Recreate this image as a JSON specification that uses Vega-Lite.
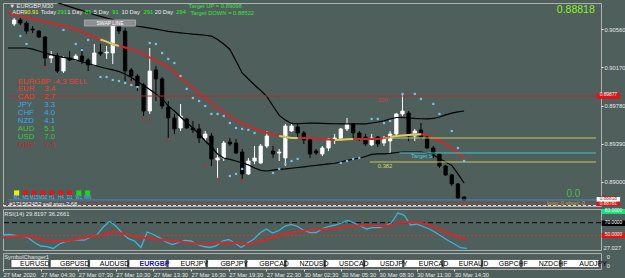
{
"$schema": "https://vega.github.io/schema/vega-lite/v6.json",
"background": "#4f5f5c",
"padding": {"left": 2, "top": 2, "right": 0, "bottom": 0},
"bounds": "flush",
"spacing": 3,
"config": {"view": {"stroke": "#b0b0b0", "strokeWidth": 1}, "font": "Liberation Sans", "text": {"font": "Liberation Sans"}},
"resolve": {"scale": {"x": "independent", "y": "independent", "color": "independent", "strokeDash": "independent"}},
"datasets": {
"candles": [
{"j":1,"o":0.90612,"h":0.90673,"l":0.90591,"c":0.90653},
{"j":2,"o":0.90653,"h":0.90673,"l":0.90602,"c":0.90622},
{"j":3,"o":0.90622,"h":0.90642,"l":0.90510,"c":0.90540},
{"j":4,"o":0.90561,"h":0.90591,"l":0.90520,"c":0.90551},
{"j":5,"o":0.90540,"h":0.90551,"l":0.90469,"c":0.90479},
{"j":6,"o":0.90479,"h":0.90489,"l":0.90183,"c":0.90265},
{"j":7,"o":0.90265,"h":0.90336,"l":0.90214,"c":0.90285},
{"j":8,"o":0.90285,"h":0.90316,"l":0.90112,"c":0.90132},
{"j":9,"o":0.90132,"h":0.90285,"l":0.90112,"c":0.90265},
{"j":10,"o":0.90265,"h":0.90336,"l":0.90234,"c":0.90245},
{"j":11,"o":0.90245,"h":0.90306,"l":0.90234,"c":0.90285},
{"j":12,"o":0.90285,"h":0.90367,"l":0.90204,"c":0.90234},
{"j":13,"o":0.90245,"h":0.90265,"l":0.90132,"c":0.90194},
{"j":14,"o":0.90194,"h":0.90408,"l":0.90183,"c":0.90316},
{"j":15,"o":0.90326,"h":0.90408,"l":0.90285,"c":0.90306},
{"j":16,"o":0.90316,"h":0.90387,"l":0.90255,"c":0.90326},
{"j":17,"o":0.90316,"h":0.90612,"l":0.90204,"c":0.90591},
{"j":18,"o":0.90591,"h":0.90622,"l":0.90510,"c":0.90540},
{"j":19,"o":0.90540,"h":0.90571,"l":0.90030,"c":0.90132},
{"j":20,"o":0.90143,"h":0.90163,"l":0.90030,"c":0.90081},
{"j":21,"o":0.90081,"h":0.90102,"l":0.89928,"c":0.89979},
{"j":22,"o":0.89990,"h":0.90010,"l":0.89673,"c":0.89724},
{"j":23,"o":0.89724,"h":0.90367,"l":0.89694,"c":0.90132},
{"j":24,"o":0.90143,"h":0.90183,"l":0.89826,"c":0.90051},
{"j":25,"o":0.90051,"h":0.90071,"l":0.89745,"c":0.89775},
{"j":26,"o":0.89765,"h":0.89826,"l":0.89449,"c":0.89653},
{"j":27,"o":0.89653,"h":0.89694,"l":0.89490,"c":0.89541},
{"j":28,"o":0.89551,"h":0.89796,"l":0.89520,"c":0.89673},
{"j":29,"o":0.89643,"h":0.89653,"l":0.89541,"c":0.89551},
{"j":30,"o":0.89551,"h":0.89622,"l":0.89500,"c":0.89531},
{"j":31,"o":0.89541,"h":0.89592,"l":0.89398,"c":0.89449},
{"j":32,"o":0.89449,"h":0.89520,"l":0.89418,"c":0.89490},
{"j":33,"o":0.89469,"h":0.89500,"l":0.89163,"c":0.89235},
{"j":34,"o":0.89225,"h":0.89347,"l":0.89041,"c":0.89245},
{"j":35,"o":0.89245,"h":0.89418,"l":0.89214,"c":0.89398},
{"j":36,"o":0.89408,"h":0.89449,"l":0.89367,"c":0.89388},
{"j":37,"o":0.89398,"h":0.89439,"l":0.89286,"c":0.89296},
{"j":38,"o":0.89306,"h":0.89337,"l":0.89031,"c":0.89082},
{"j":39,"o":0.89082,"h":0.89245,"l":0.89072,"c":0.89214},
{"j":40,"o":0.89214,"h":0.89367,"l":0.89184,"c":0.89245},
{"j":41,"o":0.89194,"h":0.89388,"l":0.89184,"c":0.89367},
{"j":42,"o":0.89367,"h":0.89520,"l":0.89347,"c":0.89469},
{"j":43,"o":0.89316,"h":0.89367,"l":0.89245,"c":0.89286},
{"j":44,"o":0.89296,"h":0.89337,"l":0.89214,"c":0.89306},
{"j":45,"o":0.89245,"h":0.89592,"l":0.89163,"c":0.89571},
{"j":46,"o":0.89520,"h":0.89602,"l":0.89510,"c":0.89571},
{"j":47,"o":0.89561,"h":0.89602,"l":0.89449,"c":0.89500},
{"j":48,"o":0.89500,"h":0.89520,"l":0.89388,"c":0.89429},
{"j":49,"o":0.89429,"h":0.89449,"l":0.89245,"c":0.89286},
{"j":50,"o":0.89316,"h":0.89337,"l":0.89276,"c":0.89296},
{"j":51,"o":0.89286,"h":0.89367,"l":0.89265,"c":0.89347},
{"j":52,"o":0.89347,"h":0.89449,"l":0.89316,"c":0.89439},
{"j":53,"o":0.89429,"h":0.89490,"l":0.89388,"c":0.89449},
{"j":54,"o":0.89429,"h":0.89551,"l":0.89418,"c":0.89541},
{"j":55,"o":0.89541,"h":0.89653,"l":0.89520,"c":0.89592},
{"j":56,"o":0.89592,"h":0.89602,"l":0.89449,"c":0.89500},
{"j":57,"o":0.89500,"h":0.89520,"l":0.89418,"c":0.89449},
{"j":58,"o":0.89459,"h":0.89490,"l":0.89367,"c":0.89388},
{"j":59,"o":0.89378,"h":0.89490,"l":0.89367,"c":0.89449},
{"j":60,"o":0.89459,"h":0.89469,"l":0.89357,"c":0.89388},
{"j":61,"o":0.89398,"h":0.89469,"l":0.89367,"c":0.89439},
{"j":62,"o":0.89418,"h":0.89520,"l":0.89286,"c":0.89490},
{"j":63,"o":0.89490,"h":0.89704,"l":0.89469,"c":0.89694},
{"j":64,"o":0.89694,"h":0.89898,"l":0.89673,"c":0.89724},
{"j":65,"o":0.89704,"h":0.89724,"l":0.89418,"c":0.89469},
{"j":66,"o":0.89469,"h":0.89541,"l":0.89418,"c":0.89520},
{"j":67,"o":0.89531,"h":0.89602,"l":0.89439,"c":0.89459},
{"j":68,"o":0.89459,"h":0.89490,"l":0.89337,"c":0.89347},
{"j":69,"o":0.89347,"h":0.89367,"l":0.89245,"c":0.89286},
{"j":70,"o":0.89286,"h":0.89296,"l":0.89143,"c":0.89163},
{"j":71,"o":0.89163,"h":0.89174,"l":0.89061,"c":0.89072},
{"j":72,"o":0.89072,"h":0.89082,"l":0.88960,"c":0.88980},
{"j":73,"o":0.88980,"h":0.88990,"l":0.88827,"c":0.88837},
{"j":74,"o":0.88847,"h":0.88857,"l":0.88806,"c":0.88818}
],
"series": [
{"j":0,"up":0.90989,"lo":0.90367,"ma":0.90724,"rsi":50.61,"rma":46.68},
{"j":1,"up":0.90969,"lo":0.90367,"ma":0.90709,"rsi":51.39,"rma":47.46},
{"j":2,"up":0.90948,"lo":0.90367,"ma":0.90693,"rsi":49.82,"rma":48.56},
{"j":3,"up":0.90928,"lo":0.90367,"ma":0.90680,"rsi":49.04,"rma":49.04},
{"j":4,"up":0.90908,"lo":0.90355,"ma":0.90666,"rsi":46.36,"rma":47.78},
{"j":5,"up":0.90887,"lo":0.90336,"ma":0.90653,"rsi":38.82,"rma":46.36},
{"j":6,"up":0.90867,"lo":0.90316,"ma":0.90635,"rsi":33.32,"rma":43.53},
{"j":7,"up":0.90846,"lo":0.90299,"ma":0.90622,"rsi":32.22,"rma":41.96},
{"j":8,"up":0.90829,"lo":0.90285,"ma":0.90607,"rsi":29.39,"rma":41.18},
{"j":9,"up":0.90810,"lo":0.90272,"ma":0.90591,"rsi":36.46,"rma":41.18},
{"j":10,"up":0.90789,"lo":0.90258,"ma":0.90576,"rsi":40.39,"rma":41.18},
{"j":11,"up":0.90768,"lo":0.90245,"ma":0.90556,"rsi":42.75,"rma":42.75},
{"j":12,"up":0.90749,"lo":0.90227,"ma":0.90530,"rsi":42.75,"rma":44.32},
{"j":13,"up":0.90726,"lo":0.90209,"ma":0.90505,"rsi":42.43,"rma":46.52},
{"j":14,"up":0.90706,"lo":0.90191,"ma":0.90479,"rsi":47.46,"rma":47.93},
{"j":15,"up":0.90689,"lo":0.90173,"ma":0.90454,"rsi":50.92,"rma":49.35},
{"j":16,"up":0.90673,"lo":0.90158,"ma":0.90432,"rsi":63.18,"rma":50.61},
{"j":17,"up":0.90655,"lo":0.90143,"ma":0.90405,"rsi":71.83,"rma":53.75},
{"j":18,"up":0.90638,"lo":0.90127,"ma":0.90387,"rsi":64.76,"rma":56.89},
{"j":19,"up":0.90622,"lo":0.90102,"ma":0.90372,"rsi":53.75,"rma":52.96},
{"j":20,"up":0.90607,"lo":0.90066,"ma":0.90355,"rsi":44.79,"rma":50.61},
{"j":21,"up":0.90589,"lo":0.90025,"ma":0.90334,"rsi":41.18,"rma":48.72},
{"j":22,"up":0.90579,"lo":0.89985,"ma":0.90301,"rsi":30.96,"rma":46.36},
{"j":23,"up":0.90569,"lo":0.89944,"ma":0.90269,"rsi":55.32,"rma":45.42},
{"j":24,"up":0.90559,"lo":0.89898,"ma":0.90240,"rsi":51.39,"rma":44.47},
{"j":25,"up":0.90548,"lo":0.89852,"ma":0.90204,"rsi":46.21,"rma":43.53},
{"j":26,"up":0.90537,"lo":0.89775,"ma":0.90173,"rsi":39.60,"rma":42.43},
{"j":27,"up":0.90528,"lo":0.89724,"ma":0.90122,"rsi":35.67,"rma":41.49},
{"j":28,"up":0.90522,"lo":0.89663,"ma":0.90061,"rsi":38.82,"rma":40.39},
{"j":29,"up":0.90515,"lo":0.89607,"ma":0.90010,"rsi":41.96,"rma":39.13},
{"j":30,"up":0.90508,"lo":0.89551,"ma":0.89959,"rsi":41.18,"rma":38.03},
{"j":31,"up":0.90503,"lo":0.89490,"ma":0.89903,"rsi":35.67,"rma":36.77},
{"j":32,"up":0.90497,"lo":0.89418,"ma":0.89852,"rsi":32.53,"rma":36.46},
{"j":33,"up":0.90489,"lo":0.89357,"ma":0.89806,"rsi":30.96,"rma":37.25},
{"j":34,"up":0.90454,"lo":0.89286,"ma":0.89760,"rsi":33.32,"rma":38.35},
{"j":35,"up":0.90408,"lo":0.89245,"ma":0.89714,"rsi":41.18,"rma":38.50},
{"j":36,"up":0.90352,"lo":0.89230,"ma":0.89668,"rsi":43.53,"rma":38.50},
{"j":37,"up":0.90234,"lo":0.89214,"ma":0.89628,"rsi":38.03,"rma":38.35},
{"j":38,"up":0.90112,"lo":0.89194,"ma":0.89592,"rsi":30.96,"rma":37.25},
{"j":39,"up":0.90051,"lo":0.89174,"ma":0.89571,"rsi":38.03,"rma":36.14},
{"j":40,"up":0.89990,"lo":0.89143,"ma":0.89545,"rsi":43.85,"rma":38.35},
{"j":41,"up":0.89934,"lo":0.89118,"ma":0.89523,"rsi":53.75,"rma":40.70},
{"j":42,"up":0.89872,"lo":0.89112,"ma":0.89503,"rsi":60.04,"rma":43.06},
{"j":43,"up":0.89775,"lo":0.89121,"ma":0.89485,"rsi":53.75,"rma":46.21},
{"j":44,"up":0.89679,"lo":0.89128,"ma":0.89469,"rsi":57.68,"rma":49.04},
{"j":45,"up":0.89633,"lo":0.89133,"ma":0.89459,"rsi":64.76,"rma":51.87},
{"j":46,"up":0.89597,"lo":0.89140,"ma":0.89449,"rsi":67.43,"rma":53.75},
{"j":47,"up":0.89594,"lo":0.89148,"ma":0.89449,"rsi":63.97,"rma":55.95},
{"j":48,"up":0.89597,"lo":0.89155,"ma":0.89449,"rsi":57.68,"rma":57.21},
{"j":49,"up":0.89600,"lo":0.89163,"ma":0.89449,"rsi":54.22,"rma":58.47},
{"j":50,"up":0.89600,"lo":0.89169,"ma":0.89444,"rsi":54.54,"rma":59.57},
{"j":51,"up":0.89597,"lo":0.89177,"ma":0.89439,"rsi":60.83,"rma":59.57},
{"j":52,"up":0.89595,"lo":0.89184,"ma":0.89434,"rsi":64.28,"rma":59.57},
{"j":53,"up":0.89594,"lo":0.89191,"ma":0.89429,"rsi":66.33,"rma":60.67},
{"j":54,"up":0.89593,"lo":0.89204,"ma":0.89432,"rsi":69.47,"rma":62.55},
{"j":55,"up":0.89592,"lo":0.89220,"ma":0.89436,"rsi":73.40,"rma":63.81},
{"j":56,"up":0.89592,"lo":0.89232,"ma":0.89439,"rsi":69.47,"rma":64.76},
{"j":57,"up":0.89592,"lo":0.89243,"ma":0.89439,"rsi":64.76,"rma":65.86},
{"j":58,"up":0.89592,"lo":0.89260,"ma":0.89439,"rsi":60.04,"rma":65.54},
{"j":59,"up":0.89602,"lo":0.89281,"ma":0.89439,"rsi":62.08,"rma":65.07},
{"j":60,"up":0.89612,"lo":0.89286,"ma":0.89439,"rsi":62.08,"rma":64.76},
{"j":61,"up":0.89624,"lo":0.89286,"ma":0.89447,"rsi":64.76,"rma":64.76},
{"j":62,"up":0.89643,"lo":0.89291,"ma":0.89459,"rsi":70.26,"rma":65.54},
{"j":63,"up":0.89658,"lo":0.89301,"ma":0.89469,"rsi":85.19,"rma":69.94},
{"j":64,"up":0.89658,"lo":0.89306,"ma":0.89475,"rsi":82.05,"rma":70.26},
{"j":65,"up":0.89653,"lo":0.89306,"ma":0.89480,"rsi":66.33,"rma":71.04},
{"j":66,"up":0.89648,"lo":0.89306,"ma":0.89485,"rsi":67.90,"rma":70.41},
{"j":67,"up":0.89645,"lo":0.89304,"ma":0.89488,"rsi":63.97,"rma":69.00},
{"j":68,"up":0.89643,"lo":0.89296,"ma":0.89480,"rsi":60.04,"rma":65.86},
{"j":69,"up":0.89648,"lo":0.89276,"ma":0.89444,"rsi":54.54,"rma":62.08},
{"j":70,"up":0.89663,"lo":0.89240,"ma":0.89418,"rsi":48.25,"rma":58.15},
{"j":71,"up":0.89684,"lo":0.89204,"ma":0.89388,"rsi":41.96,"rma":54.07},
{"j":72,"up":0.89702,"lo":0.89169,"ma":0.89347,"rsi":36.46,"rma":49.04},
{"j":73,"up":0.89716,"lo":0.89082,"ma":0.89296,"rsi":30.64,"rma":45.42},
{"j":74,"up":0.89724,"lo":0.88990,"ma":0.89245,"rsi":29.70,"rma":43.53}
],
"maup": [
{"j":15,"p":0.90454,"seg":1},{"j":16,"p":0.90432,"seg":1},{"j":17,"p":0.90405,"seg":1},{"j":18,"p":0.90387,"seg":1},
{"j":44,"p":0.89469,"seg":2},{"j":45,"p":0.89459,"seg":2},{"j":46,"p":0.89449,"seg":2},{"j":47,"p":0.89449,"seg":2},
{"j":53,"p":0.89429,"seg":3},{"j":54,"p":0.89432,"seg":3},{"j":55,"p":0.89436,"seg":3},{"j":56,"p":0.89439,"seg":3},
{"j":62,"p":0.89459,"seg":4},{"j":63,"p":0.89469,"seg":4},{"j":64,"p":0.89475,"seg":4},{"j":65,"p":0.89480,"seg":4},{"j":66,"p":0.89485,"seg":4},{"j":67,"p":0.89488,"seg":4}
],
"sar": [
{"j":2,"p":0.90489},{"j":3,"p":0.90408},{"j":9,"p":0.90551},{"j":11,"p":0.90408},{"j":12,"p":0.90347},{"j":13,"p":0.90449},
{"j":15,"p":0.90071},{"j":16,"p":0.90071},{"j":17,"p":0.90041},{"j":18,"p":0.90030},{"j":19,"p":0.90010},{"j":20,"p":0.89990},{"j":21,"p":0.89969},
{"j":23,"p":0.90418},{"j":24,"p":0.90408},{"j":25,"p":0.90316},{"j":26,"p":0.90255},{"j":27,"p":0.90214},{"j":28,"p":0.90081},{"j":29,"p":0.89949},
{"j":30,"p":0.89857},{"j":31,"p":0.89826},{"j":32,"p":0.89775},{"j":33,"p":0.89694},{"j":34,"p":0.89694},{"j":35,"p":0.89673},{"j":36,"p":0.89602},
{"j":37,"p":0.89551},{"j":38,"p":0.89541},{"j":39,"p":0.89531},{"j":40,"p":0.89500},
{"j":36,"p":0.89061},{"j":37,"p":0.89082},{"j":38,"p":0.89133},{"j":43,"p":0.89092},{"j":44,"p":0.89133},{"j":45,"p":0.89184},{"j":46,"p":0.89214},{"j":47,"p":0.89235},
{"j":54,"p":0.89194},{"j":55,"p":0.89214},{"j":56,"p":0.89235},{"j":57,"p":0.89245},
{"j":59,"p":0.89643},{"j":60,"p":0.89643},{"j":61,"p":0.89602},{"j":62,"p":0.89622},
{"j":64,"p":0.89898},{"j":66,"p":0.89898},{"j":67,"p":0.89847},{"j":69,"p":0.89796},{"j":70,"p":0.89694},{"j":72,"p":0.89520},{"j":73,"p":0.89347},{"j":74,"p":0.89214}
],
"fractals": [
{"j":6,"p":0.90173},{"j":20,"p":0.90020},{"j":22,"p":0.89653},{"j":23,"p":0.89633},{"j":26,"p":0.89439},{"j":32,"p":0.89174},{"j":34,"p":0.89031},{"j":38,"p":0.89021},{"j":74,"p":0.88776}
],
"hlines": [
{"j0":0,"j1":95.4,"p":0.89877,"k":"fib100"},
{"j0":60.8,"j1":95.4,"p":0.89449,"k":"fibA"},
{"j0":58.7,"j1":95.4,"p":0.89204,"k":"fibB"},
{"j0":63.5,"j1":95.4,"p":0.89296,"k":"tgtS"},
{"j0":0,"j1":95.4,"p":0.88817,"k":"bid"}
],
"hdash": [
{"p":0.88781,"k":"order"},
{"p":0.88760,"k":"sl"}
],
"tf": [
{"j":1.40,"t":"M1","s":"y"},{"j":2.84,"t":"M5","s":"r"},{"j":4.23,"t":"M15","s":"r"},{"j":5.66,"t":"M30","s":"r"},{"j":7.10,"t":"H1","s":"r"},
{"j":8.58,"t":"H4","s":"r"},{"j":10.02,"t":"D1","s":"r"},{"j":11.48,"t":"W1","s":"g"},{"j":12.92,"t":"MN","s":"g"}
],
"toptext": [
{"j":0.2,"p":0.90821,"t":"▼ EURGBP,M30","k":"w"},
{"j":29.3,"p":0.90821,"t":"Target UP      = 0.89098","k":"tg"}
],
"adr": [
{"j":0.7,"p":0.90734,"t":"ADR","k":"w"},
{"j":2.6,"p":0.90734,"t":"90.91","k":"ay"},
{"j":5.3,"p":0.90734,"t":"Today","k":"w"},
{"j":8.0,"p":0.90734,"t":"291","k":"ag"},
{"j":9.6,"p":0.90734,"t":"1 Day","k":"w"},
{"j":12.5,"p":0.90734,"t":"81","k":"ag"},
{"j":13.9,"p":0.90734,"t":"5 Day","k":"w"},
{"j":16.9,"p":0.90734,"t":"91","k":"ag"},
{"j":18.4,"p":0.90734,"t":"10 Day","k":"w"},
{"j":22.0,"p":0.90734,"t":"291","k":"ag"},
{"j":23.8,"p":0.90734,"t":"20 Day","k":"w"},
{"j":27.3,"p":0.90734,"t":"294","k":"ag"}
],
"smalltext": [
{"j":29.6,"p":0.90726,"t":"Target DOWN = 0.88522","k":"tg"},
{"j":60,"p":0.89837,"t":"100","k":"fr"},
{"j":60,"p":0.89163,"t":"0.382","k":"fy"},
{"j":65.4,"p":0.89265,"t":"Target S","k":"tc"},
{"j":0.2,"p":0.88776,"t":"#171562452 sell stop 2.68","k":"w"},
{"j":87.4,"p":0.88781,"t":"long: 0 short: 0","k":"ls"}
],
"strength": [
{"j":1.6,"p":0.90025,"t":"EURGBP -4.3 SELL","k":"r"},
{"j":1.6,"p":0.89949,"t":"EUR","k":"r"},{"j":5.9,"p":0.89949,"t":"3.4","k":"r"},
{"j":1.6,"p":0.89867,"t":"CAD","k":"r"},{"j":5.9,"p":0.89867,"t":"2.7","k":"r"},
{"j":1.6,"p":0.89786,"t":"JPY","k":"b"},{"j":5.9,"p":0.89786,"t":"3.3","k":"b"},
{"j":1.6,"p":0.89704,"t":"CHF","k":"b"},{"j":5.9,"p":0.89704,"t":"4.0","k":"b"},
{"j":1.6,"p":0.89622,"t":"NZD","k":"b"},{"j":5.9,"p":0.89622,"t":"4.1","k":"b"},
{"j":1.6,"p":0.89541,"t":"AUD","k":"g"},{"j":5.9,"p":0.89541,"t":"5.1","k":"g"},
{"j":1.6,"p":0.89459,"t":"USD","k":"g"},{"j":5.9,"p":0.89459,"t":"7.0","k":"g"},
{"j":1.6,"p":0.89378,"t":"GBP","k":"d"},{"j":5.9,"p":0.89378,"t":"7.5","k":"d"}
],
"mboxes": [
{"p0":0.89908,"p1":0.89847,"t":"0.89877","k":"r"},
{"p0":0.88847,"p1":0.88801,"t":"0.88818","k":"w"},
{"p0":0.88796,"p1":0.88755,"t":"0.88781","k":"r"}
],
"rtext": [
{"j":0.2,"v":83.6,"t":"RSI(14) 29.8197 36.2661"},
{"j":95.8,"v":29.6,"t":"27.027"}
],
"rboxes": [
{"v0":91.5,"v1":83.6,"t":"83.0000","k":"g"},
{"v0":73.4,"v1":64.8,"t":"70.0000","k":"b"},
{"v0":53.8,"v1":45.9,"t":"50.0000","k":"r"}
],
"levels": [{"v":70,"k":"hi"},{"v":50,"k":"mid"}],
"syms": [
{"sym":"EURUSD","st":"off"},{"sym":"GBPUSD","st":"off"},{"sym":"AUDUSD","st":"off"},{"sym":"EURGBP","st":"on"},{"sym":"EURJPY","st":"off"},
{"sym":"GBPJPY","st":"off"},{"sym":"GBPCAD","st":"off"},{"sym":"NZDUSD","st":"off"},{"sym":"USDCAD","st":"off"},{"sym":"USDJPY","st":"off"},
{"sym":"EURCAD","st":"off"},{"sym":"EURAUD","st":"off"},{"sym":"GBPCHF","st":"off"},{"sym":"NZDCHF","st":"off"},{"sym":"AUDJPY","st":"off"}
],
"symtext": [
{"j":0.2,"v":0.78,"t":"SymbolChanger1"},
{"j":96.3,"v":0.78,"t":"0"},
{"j":96.3,"v":0.2,"t":"0"}
]
},
"vconcat": [
{
"width": 598, "height": 203,
"resolve": {"scale": {"color": "independent"}},
"layer": [
{"data": {"name": "candles"}, "mark": {"type": "rule", "strokeWidth": 1},
 "encoding": {
  "x": {"field": "j", "type": "quantitative", "scale": {"domain": [0, 95.4], "nice": false, "zero": false}, "axis": null},
  "y": {"field": "l", "type": "quantitative", "scale": {"domain": [0.88755, 0.90826], "nice": false, "zero": false},
        "axis": {"orient": "right", "values": [0.89, 0.89195, 0.8939, 0.89585, 0.8978, 0.89975, 0.9017, 0.90365, 0.9056, 0.90755], "format": ".5f", "labelFontSize": 5.8, "labelColor": "#e6e6e6", "tickColor": "#e6e6e6", "tickSize": 2, "labelPadding": 1, "domain": false, "grid": false, "title": null}},
  "y2": {"field": "h"},
  "color": {"condition": {"test": "datum.c >= datum.o", "value": "#ffffff"}, "value": "#000000"}}},
{"data": {"name": "candles"}, "mark": {"type": "bar", "width": 3.4, "strokeWidth": 0.8},
 "encoding": {
  "x": {"field": "j", "type": "quantitative"},
  "y": {"field": "o", "type": "quantitative"},
  "y2": {"field": "c"},
  "fill": {"condition": {"test": "datum.c >= datum.o", "value": "#ffffff"}, "value": "#000000"},
  "stroke": {"condition": {"test": "datum.c >= datum.o", "value": "#ffffff"}, "value": "#000000"}}},
{"data": {"name": "series"}, "mark": {"type": "line", "color": "#000000", "strokeWidth": 1.2, "clip": true},
 "encoding": {"x": {"field": "j", "type": "quantitative"}, "y": {"field": "up", "type": "quantitative"}}},
{"data": {"name": "series"}, "mark": {"type": "line", "color": "#000000", "strokeWidth": 1.2, "clip": true},
 "encoding": {"x": {"field": "j", "type": "quantitative"}, "y": {"field": "lo", "type": "quantitative"}}},
{"data": {"name": "series"}, "mark": {"type": "line", "color": "#cc2a2a", "strokeWidth": 2, "clip": true},
 "encoding": {"x": {"field": "j", "type": "quantitative"}, "y": {"field": "ma", "type": "quantitative"}}},
{"data": {"name": "maup"}, "mark": {"type": "line", "color": "#c8d464", "strokeWidth": 2, "clip": true},
 "encoding": {"x": {"field": "j", "type": "quantitative"}, "y": {"field": "p", "type": "quantitative"}, "detail": {"field": "seg", "type": "nominal"}}},
{"data": {"name": "hlines"}, "mark": {"type": "rule", "strokeWidth": 1, "clip": true},
 "encoding": {"x": {"field": "j0", "type": "quantitative"}, "x2": {"field": "j1"}, "y": {"field": "p", "type": "quantitative"},
  "color": {"field": "k", "type": "nominal", "legend": null, "scale": {"domain": ["fib100", "fibA", "fibB", "tgtS", "bid"], "range": ["#a83232", "#c8c85a", "#c8c85a", "#3cc8c8", "#4c84c8"]}}}},
{"data": {"name": "hdash"}, "mark": {"type": "rule", "strokeWidth": 1, "strokeDash": [3, 2], "clip": true},
 "encoding": {"y": {"field": "p", "type": "quantitative"},
  "color": {"field": "k", "type": "nominal", "legend": null, "scale": {"domain": ["order", "sl"], "range": ["#c83232", "#d8d8d8"]}}}},
{"data": {"name": "sar"}, "mark": {"type": "square", "size": 5, "filled": true, "opacity": 1, "color": "#78c0ea"},
 "encoding": {"x": {"field": "j", "type": "quantitative"}, "y": {"field": "p", "type": "quantitative"}}},
{"data": {"name": "fractals"}, "mark": {"type": "point", "shape": "triangle-up", "size": 9, "filled": true, "opacity": 1, "color": "#d82020"},
 "encoding": {"x": {"field": "j", "type": "quantitative"}, "y": {"field": "p", "type": "quantitative"}}},
{"data": {"name": "tf"}, "mark": {"type": "square", "size": 26, "filled": true, "opacity": 1},
 "encoding": {"x": {"field": "j", "type": "quantitative"}, "y": {"datum": 0.88888, "type": "quantitative"},
  "color": {"field": "s", "type": "nominal", "legend": null, "scale": {"domain": ["y", "r", "g"], "range": ["#f0f000", "#e01818", "#18d818"]}}}},
{"data": {"name": "tf"}, "mark": {"type": "text", "fontSize": 4.5, "color": "#40c8e8", "align": "center", "baseline": "middle"},
 "encoding": {"x": {"field": "j", "type": "quantitative"}, "y": {"datum": 0.88839, "type": "quantitative"}, "text": {"field": "t"}}},
{"data": {"values": [{"j0": 12.4, "j1": 20.7, "p0": 0.90653, "p1": 0.90591}]}, "mark": {"type": "rect", "fill": "#8e8e8e", "stroke": "#c4c4c4", "strokeWidth": 0.6},
 "encoding": {"x": {"field": "j0", "type": "quantitative"}, "x2": {"field": "j1"}, "y": {"field": "p0", "type": "quantitative"}, "y2": {"field": "p1"}}},
{"data": {"values": [{"j": 16.55, "p": 0.90622, "t": "SWAP LINE"}]}, "mark": {"type": "text", "fontSize": 5, "color": "#ffffff", "align": "center", "baseline": "middle"},
 "encoding": {"x": {"field": "j", "type": "quantitative"}, "y": {"field": "p", "type": "quantitative"}, "text": {"field": "t"}}},
{"data": {"name": "toptext"}, "mark": {"type": "text", "fontSize": 5.8, "align": "left", "baseline": "top"},
 "encoding": {"x": {"field": "j", "type": "quantitative"}, "y": {"field": "p", "type": "quantitative"}, "text": {"field": "t"},
  "color": {"field": "k", "type": "nominal", "legend": null, "scale": {"domain": ["w", "tg"], "range": ["#e8e8e8", "#3ce03c"]}}}},
{"data": {"name": "adr"}, "mark": {"type": "text", "fontSize": 5.8, "align": "left", "baseline": "middle"},
 "encoding": {"x": {"field": "j", "type": "quantitative"}, "y": {"field": "p", "type": "quantitative"}, "text": {"field": "t"},
  "color": {"field": "k", "type": "nominal", "legend": null, "scale": {"domain": ["w", "ay", "ag"], "range": ["#e8e8e8", "#f0f028", "#30f030"]}}}},
{"data": {"name": "smalltext"}, "mark": {"type": "text", "fontSize": 5.8, "align": "left", "baseline": "middle"},
 "encoding": {"x": {"field": "j", "type": "quantitative"}, "y": {"field": "p", "type": "quantitative"}, "text": {"field": "t"},
  "color": {"field": "k", "type": "nominal", "legend": null, "scale": {"domain": ["w", "tg", "fr", "fy", "tc", "ls"], "range": ["#e8e8e8", "#3ce03c", "#d04040", "#d8d870", "#40d0d0", "#b8a848"]}}}},
{"data": {"name": "strength"}, "mark": {"type": "text", "fontSize": 7.8, "align": "left", "baseline": "middle"},
 "encoding": {"x": {"field": "j", "type": "quantitative"}, "y": {"field": "p", "type": "quantitative"}, "text": {"field": "t"},
  "color": {"field": "k", "type": "nominal", "legend": null, "scale": {"domain": ["r", "b", "g", "d"], "range": ["#ff3a2a", "#3aa8f0", "#3cc83c", "#c02828"]}}}},
{"data": {"values": [{"j": 90.6, "p": 0.88878, "t": "0.0"}]}, "mark": {"type": "text", "fontSize": 10, "align": "left", "baseline": "middle", "color": "#50b850"},
 "encoding": {"x": {"field": "j", "type": "quantitative"}, "y": {"field": "p", "type": "quantitative"}, "text": {"field": "t"}}},
{"data": {"values": [{"j": 95.2, "p": 0.90755, "t": "0.88818"}]}, "mark": {"type": "text", "fontSize": 10.5, "align": "right", "baseline": "middle", "color": "#8cf028"},
 "encoding": {"x": {"field": "j", "type": "quantitative"}, "y": {"field": "p", "type": "quantitative"}, "text": {"field": "t"}}},
{"data": {"name": "mboxes"}, "mark": {"type": "rect"},
 "encoding": {"x": {"datum": 95.5, "type": "quantitative"}, "x2": {"datum": 99.3}, "y": {"field": "p0", "type": "quantitative"}, "y2": {"field": "p1"},
  "color": {"field": "k", "type": "nominal", "legend": null, "scale": {"domain": ["r", "w"], "range": ["#e01414", "#ffffff"]}}}},
{"data": {"name": "mboxes"}, "mark": {"type": "text", "fontSize": 4.8, "align": "center", "baseline": "middle"},
 "encoding": {"x": {"datum": 97.4, "type": "quantitative"}, "y": {"field": "p0", "type": "quantitative"}, "text": {"field": "t"},
  "yOffset": {"value": 2.4},
  "color": {"field": "k", "type": "nominal", "legend": null, "scale": {"domain": ["r", "w"], "range": ["#ffffff", "#c01010"]}}}}
]
},
{
"width": 598, "height": 41,
"resolve": {"scale": {"color": "independent", "strokeDash": "independent"}},
"layer": [
{"data": {"name": "levels"}, "mark": {"type": "rule", "strokeWidth": 1},
 "encoding": {"y": {"field": "v", "type": "quantitative", "scale": {"domain": [27.027, 91.5], "nice": false, "zero": false}, "axis": null},
  "color": {"field": "k", "type": "nominal", "legend": null, "scale": {"domain": ["hi", "mid"], "range": ["#000000", "#c83c3c"]}},
  "strokeDash": {"field": "k", "type": "nominal", "legend": null, "scale": {"domain": ["hi", "mid"], "range": [[5, 3], [2, 2]]}}}},
{"data": {"name": "series"}, "mark": {"type": "line", "color": "#3cb4dc", "strokeWidth": 1.3, "clip": true},
 "encoding": {"x": {"field": "j", "type": "quantitative", "scale": {"domain": [0, 95.4], "nice": false, "zero": false}, "axis": null}, "y": {"field": "rsi", "type": "quantitative"}}},
{"data": {"name": "series"}, "mark": {"type": "line", "color": "#d22a2a", "strokeWidth": 2, "clip": true},
 "encoding": {"x": {"field": "j", "type": "quantitative"}, "y": {"field": "rma", "type": "quantitative"}}},
{"data": {"name": "rtext"}, "mark": {"type": "text", "fontSize": 5.8, "align": "left", "baseline": "middle", "color": "#e6e6e6"},
 "encoding": {"x": {"field": "j", "type": "quantitative"}, "y": {"field": "v", "type": "quantitative"}, "text": {"field": "t"}}},
{"data": {"name": "rboxes"}, "mark": {"type": "rect"},
 "encoding": {"x": {"datum": 95.5, "type": "quantitative"}, "x2": {"datum": 99.3}, "y": {"field": "v0", "type": "quantitative"}, "y2": {"field": "v1"},
  "color": {"field": "k", "type": "nominal", "legend": null, "scale": {"domain": ["g", "b", "r"], "range": ["#18e07c", "#000000", "#e01414"]}}}},
{"data": {"name": "rboxes"}, "mark": {"type": "text", "fontSize": 4.8, "align": "center", "baseline": "middle", "color": "#ffffff"},
 "encoding": {"x": {"datum": 97.4, "type": "quantitative"}, "y": {"field": "v1", "type": "quantitative"}, "yOffset": {"value": -2.8}, "text": {"field": "t"}}}
]
},
{
"width": 598, "height": 16,
"resolve": {"scale": {"x": "independent"}},
"layer": [
{"data": {"name": "syms"}, "mark": {"type": "bar", "fill": "#ffffff", "stroke": "#303030", "strokeWidth": 0.6},
 "encoding": {
  "x": {"field": "sym", "type": "nominal", "sort": null, "scale": {"domain": ["EURUSD","GBPUSD","AUDUSD","EURGBP","EURJPY","GBPJPY","GBPCAD","NZDUSD","USDCAD","USDJPY","EURCAD","EURAUD","GBPCHF","NZDCHF","AUDJPY"], "paddingInner": 0.04, "paddingOuter": 0.128, "align": 0.8}, "axis": null},
  "y": {"datum": 0.094, "type": "quantitative", "scale": {"domain": [0, 1], "nice": false, "zero": false}, "axis": null},
  "y2": {"datum": 0.594}}},
{"data": {"name": "syms"}, "transform": [{"filter": "datum.st == 'off'"}], "mark": {"type": "text", "fontSize": 7, "color": "#000000", "baseline": "middle"},
 "encoding": {
  "x": {"field": "sym", "type": "nominal", "sort": null, "scale": {"domain": ["EURUSD","GBPUSD","AUDUSD","EURGBP","EURJPY","GBPJPY","GBPCAD","NZDUSD","USDCAD","USDJPY","EURCAD","EURAUD","GBPCHF","NZDCHF","AUDJPY"], "paddingInner": 0.04, "paddingOuter": 0.128, "align": 0.8}, "axis": null},
  "y": {"datum": 0.34, "type": "quantitative"},
  "text": {"field": "sym"}}},
{"data": {"name": "syms"}, "transform": [{"filter": "datum.st == 'on'"}], "mark": {"type": "text", "fontSize": 7, "fontWeight": "bold", "color": "#1414c0", "baseline": "middle"},
 "encoding": {
  "x": {"field": "sym", "type": "nominal", "sort": null, "scale": {"domain": ["EURUSD","GBPUSD","AUDUSD","EURGBP","EURJPY","GBPJPY","GBPCAD","NZDUSD","USDCAD","USDJPY","EURCAD","EURAUD","GBPCHF","NZDCHF","AUDJPY"], "paddingInner": 0.04, "paddingOuter": 0.128, "align": 0.8}, "axis": null},
  "y": {"datum": 0.34, "type": "quantitative"},
  "text": {"field": "sym"}}},
{"data": {"name": "symtext"}, "mark": {"type": "text", "fontSize": 5.8, "align": "left", "baseline": "middle", "color": "#e6e6e6"},
 "encoding": {
  "x": {"field": "j", "type": "quantitative", "scale": {"domain": [0, 95.4], "nice": false, "zero": false},
        "axis": {"orient": "bottom", "values": [0, 6, 12, 18, 24, 30, 36, 42, 48, 54, 60, 66, 72],
                 "labelExpr": "['27 Mar 2020','27 Mar 04:30','27 Mar 07:30','27 Mar 10:30','27 Mar 13:30','27 Mar 16:30','27 Mar 19:30','27 Mar 22:30','30 Mar 02:30','30 Mar 05:30','30 Mar 08:30','30 Mar 11:30','30 Mar 14:30'][round(datum.value/6)]",
                 "labelAlign": "left", "labelFontSize": 5.8, "labelColor": "#e6e6e6", "labelPadding": 0, "tickSize": 2, "tickColor": "#e6e6e6", "domain": false, "grid": false, "title": null, "labelOverlap": false, "labelFlush": false, "labelBound": false}},
  "y": {"field": "v", "type": "quantitative"},
  "text": {"field": "t"}}}
]
}
]
}
